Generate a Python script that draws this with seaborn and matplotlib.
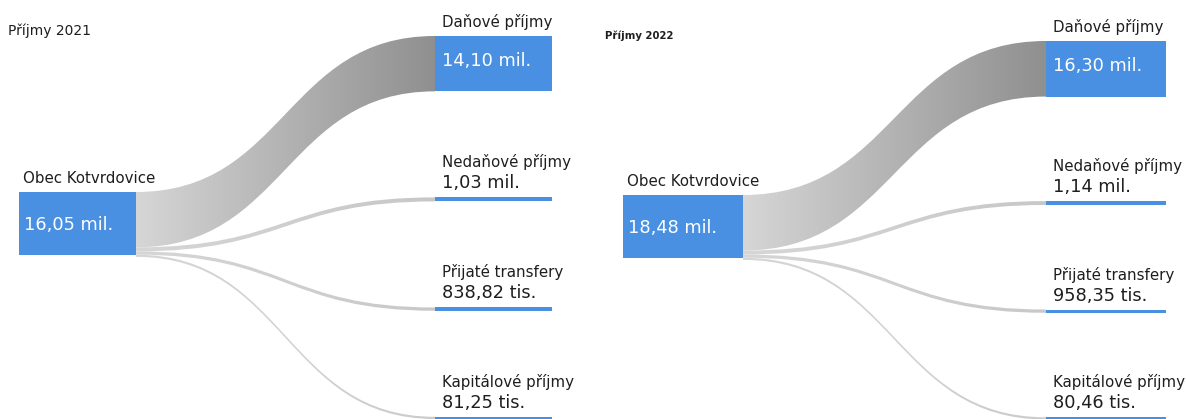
import numpy as np
import matplotlib
matplotlib.use("Agg")
import matplotlib.pyplot as plt
from matplotlib.path import Path
from matplotlib.patches import PathPatch, Rectangle
import seaborn as sns

# data (values in mil. Kč)
source_name = "Obec Kotvrdovice"
categories = ["Daňové příjmy", "Nedaňové příjmy", "Přijaté transfery", "Kapitálové příjmy"]
titles = ["Příjmy 2021", "Příjmy 2022"]
totals = [16.05, 18.48]
values_2021 = [14.10, 1.03, 0.83882, 0.08125]
values_2022 = [16.30, 1.14, 0.95835, 0.08046]

sns.set_style("white")
plt.rcParams['font.family'] = ['DejaVu Sans']

BLUE = "#4a90e2"
TXT = "#1e1e1e"
LBL_FS = 10.8
VAL_FS = 12.8


def fmt(v):
    if v >= 1:
        return "{:.2f}".format(v).replace(".", ",") + " mil."
    return "{:.2f}".format(v * 1000).replace(".", ",") + " tis."


def link(ax, x1, x2, s0, s1, t0, t1, g0, g1):
    xm = (x1 + x2) / 2
    verts = [(x1, s0), (xm, s0), (xm, t0), (x2, t0), (x2, t1),
             (xm, t1), (xm, s1), (x1, s1), (x1, s0)]
    codes = [Path.MOVETO, Path.CURVE4, Path.CURVE4, Path.CURVE4, Path.LINETO,
             Path.CURVE4, Path.CURVE4, Path.CURVE4, Path.CLOSEPOLY]
    patch = PathPatch(Path(verts, codes), facecolor="none", edgecolor="none",
                      transform=ax.transData)
    ax.add_patch(patch)
    g = np.linspace(g0, g1, 256)
    img = np.dstack([g, g, g]).reshape(1, 256, 3)
    im = ax.imshow(img, extent=[x1, x2, max(s1, t1) + 1, min(s0, t0) - 1],
                   aspect="auto", interpolation="bilinear", zorder=1)
    im.set_clip_path(patch)


def sankey(ax, lay, title, total, values):
    src_h = lay["src_h"]
    scale = src_h / total
    w = lay["node_w"]
    sx, tx, stop = lay["src_x"], lay["tgt_x"], lay["src_top"]

    ax.text(lay["title_xy"][0], lay["title_xy"][1], title, fontsize=lay["title_fs"],
            fontweight=lay["title_fw"], color=TXT, va="center", ha="left")

    # source node
    ax.add_patch(Rectangle((sx, stop), w, src_h, color=BLUE, lw=0, zorder=2))
    ax.text(sx + 4, stop - 14, source_name, fontsize=LBL_FS, color=TXT, va="center")
    ax.text(sx + 5, stop + src_h / 2 + 1, fmt(total), fontsize=VAL_FS, color="white",
            va="center")

    heights = [max(v * scale, 2.2) for v in values]
    gap = (lay["tgt_bottom"] - lay["tgt_top"] - sum(heights)) / (len(values) - 1)

    y_t = lay["tgt_top"]
    y_s = stop
    for name, v, h in zip(categories, values, heights):
        lw = v * scale
        share = v / total
        link(ax, sx + w, tx, y_s, y_s + max(lw, 2.2), y_t, y_t + h,
             0.84, 0.80 - 0.27 * share)
        ax.add_patch(Rectangle((tx, y_t), w, h, color=BLUE, lw=0, zorder=2))
        if h > 30:
            ax.text(tx + 7, y_t - 14, name, fontsize=LBL_FS, color=TXT, va="center")
            ax.text(tx + 7, y_t + h / 2 - 3, fmt(v), fontsize=VAL_FS, color="white",
                    va="center")
        else:
            ax.text(tx + 7, y_t - 35, name, fontsize=LBL_FS, color=TXT, va="center")
            ax.text(tx + 7, y_t - 14, fmt(v), fontsize=VAL_FS, color=TXT, va="center")
        y_s += lw
        y_t += h + gap


layouts = [
    dict(src_x=19, tgt_x=435, node_w=117, src_top=192, src_h=63, tgt_top=36,
         tgt_bottom=419, title_xy=(8, 31), title_fs=10, title_fw="normal"),
    dict(src_x=623, tgt_x=1046, node_w=120, src_top=195, src_h=63, tgt_top=41,
         tgt_bottom=419.5, title_xy=(605, 36), title_fs=7.3, title_fw="bold"),
]

fig = plt.figure(figsize=(11.86, 4.19), dpi=100)
ax = fig.add_axes([0, 0, 1, 1])

for lay, title, total, vals in zip(layouts, titles, totals, [values_2021, values_2022]):
    sankey(ax, lay, title, total, vals)

ax.set_xlim(0, 1186)
ax.set_ylim(419, 0)
ax.axis("off")

fig.savefig("out.png", dpi=100)
